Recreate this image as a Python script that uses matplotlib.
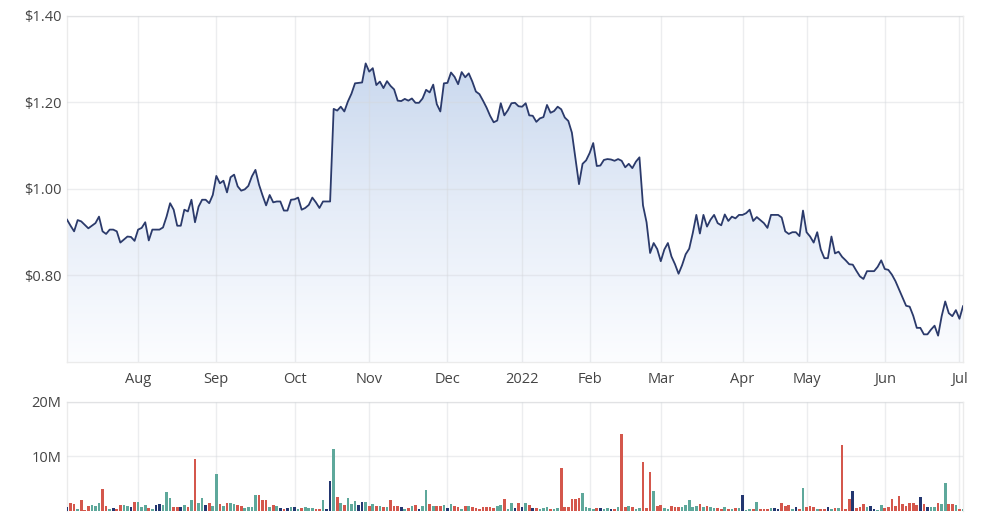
import numpy as np
import pandas as pd
import matplotlib
matplotlib.use("Agg")
import matplotlib.pyplot as plt
from matplotlib.colors import LinearSegmentedColormap

plt.rcParams['font.family'] = ['Open Sans', 'DejaVu Sans']

# ---------------- data ----------------
start_date = "2021-07-05"
end_date = "2022-07-04"
asx_holidays = ["2021-12-27", "2021-12-28", "2022-01-03", "2022-01-26",
                "2022-04-15", "2022-04-18", "2022-04-25", "2022-06-13"]

month_labels = ["Aug", "Sep", "Oct", "Nov", "Dec", "2022",
                "Feb", "Mar", "Apr", "May", "Jun", "Jul"]

price_ticks = [0.80, 1.00, 1.20, 1.40]
volume_ticks_m = [10, 20]

prices = [
    0.929, 0.915, 0.902, 0.928, 0.925, 0.917, 0.909, 0.915, 0.921, 0.936,
    0.902, 0.896, 0.906, 0.906, 0.902, 0.876, 0.883, 0.890, 0.889, 0.880,
    0.906, 0.910, 0.923, 0.881, 0.906, 0.906, 0.906, 0.911, 0.936, 0.967,
    0.952, 0.915, 0.915, 0.952, 0.948, 0.975, 0.923, 0.959, 0.975, 0.975,
    0.967, 0.986, 1.030, 1.013, 1.019, 0.992, 1.027, 1.033, 1.006, 0.996,
    0.999, 1.007, 1.029, 1.044, 1.010, 0.985, 0.962, 0.986, 0.969, 0.971,
    0.971, 0.950, 0.950, 0.975, 0.976, 0.980, 0.952, 0.956, 0.963, 0.980,
    0.969, 0.956, 0.971, 0.971, 0.971,
    1.185, 1.181, 1.190, 1.179, 1.202, 1.220, 1.244, 1.245, 1.246, 1.290,
    1.271, 1.279, 1.240, 1.248, 1.233, 1.249, 1.238, 1.230, 1.204, 1.203,
    1.208, 1.204, 1.209, 1.199, 1.199, 1.209, 1.229, 1.223, 1.241, 1.196,
    1.179, 1.244,
    1.245, 1.269, 1.259, 1.242, 1.270, 1.258, 1.267, 1.248, 1.225, 1.219,
    1.204, 1.188, 1.169, 1.154, 1.158, 1.198, 1.170, 1.182, 1.198, 1.199,
    1.191, 1.190, 1.198, 1.170, 1.169, 1.155, 1.163, 1.166, 1.194, 1.176,
    1.180, 1.190, 1.184, 1.165, 1.157, 1.130, 1.070, 1.011,
    1.058, 1.066, 1.083, 1.106, 1.053, 1.054, 1.067, 1.069, 1.068, 1.065,
    1.069, 1.065, 1.050, 1.058, 1.048, 1.063, 1.073, 0.962, 0.923, 0.852,
    0.875, 0.861, 0.833, 0.860, 0.875, 0.844, 0.826, 0.804, 0.824, 0.849,
    0.862, 0.898, 0.940, 0.897, 0.940, 0.913, 0.929, 0.940, 0.921, 0.916,
    0.941, 0.926, 0.936, 0.932, 0.940, 0.940, 0.944, 0.952, 0.926, 0.935,
    0.928, 0.921, 0.910, 0.940, 0.940, 0.940, 0.934, 0.902, 0.896, 0.900,
    0.900, 0.891, 0.950, 0.900, 0.890, 0.876, 0.900, 0.860, 0.840, 0.840,
    0.890, 0.851, 0.855, 0.843, 0.835, 0.826, 0.825, 0.811, 0.798, 0.792,
    0.810, 0.810, 0.810, 0.820, 0.835, 0.815, 0.813, 0.802, 0.787, 0.768,
    0.749, 0.730, 0.728, 0.707, 0.679, 0.679, 0.664, 0.664, 0.675, 0.684,
    0.661, 0.706, 0.740, 0.713, 0.706, 0.720, 0.700, 0.729,
]

volumes_m = [
    0.74, 1.53, 1.23, 0.43, 2.09, 0.25, 0.86, 1.04, 0.86, 1.53,
    4.10, 0.86, 0.43, 0.55, 0.37, 1.17, 1.10, 0.86, 0.67, 1.72,
    1.72, 0.74, 1.04, 0.55, 0.43, 1.10, 1.23, 1.10, 3.50, 2.33,
    0.67, 0.67, 0.74, 1.10, 0.74, 2.09, 9.50, 1.53, 2.45, 1.04,
    1.53, 0.86, 6.70, 1.23, 0.92, 1.53, 1.53, 1.29, 1.10, 0.86,
    0.61, 0.74, 0.74, 2.90, 2.90, 2.09, 1.96, 0.74, 1.10, 0.86,
    0.55, 0.37, 0.61, 0.67, 0.67, 0.43, 0.49, 0.67, 0.49, 0.49,
    0.37, 0.37, 1.96, 0.43, 5.50, 11.30, 2.50, 1.53, 1.10, 2.33,
    1.29, 1.90, 1.10, 1.72, 1.72, 0.86, 1.29, 0.86, 0.86, 0.74,
    0.67, 1.96, 0.86, 0.86, 0.67, 0.43, 0.49, 0.86, 1.10, 0.43,
    0.86, 3.80, 1.29, 0.86, 0.92, 0.86, 1.10, 0.55, 1.29, 0.86,
    0.67, 0.37, 0.92, 0.92, 0.67, 0.55, 0.37, 0.67, 0.74, 0.67,
    0.55, 0.92, 1.04, 2.15, 0.43, 1.53, 0.55, 1.53, 0.74, 1.53,
    1.10, 0.55, 0.55, 0.37, 0.55, 0.67, 0.37, 0.37, 0.49, 7.90,
    0.74, 0.74, 2.15, 2.15, 2.33, 3.37, 0.74, 0.49, 0.37, 0.55,
    0.55, 0.37, 0.55, 0.37, 0.37, 0.74, 14.10, 0.74, 0.92, 0.74,
    0.43, 0.55, 8.90, 0.55, 7.10, 3.60, 0.92, 1.10, 0.49, 0.37,
    0.92, 0.67, 0.74, 0.74, 1.10, 1.96, 0.74, 0.86, 1.29, 0.74,
    0.92, 0.74, 0.49, 0.49, 0.37, 0.74, 0.37, 0.43, 0.55, 0.55,
    2.90, 0.25, 0.37, 0.37, 1.72, 0.37, 0.37, 0.37, 0.55, 0.49,
    0.37, 1.53, 0.92, 1.10, 0.37, 0.74, 0.37, 4.30, 0.74, 0.92,
    0.74, 0.37, 0.37, 0.37, 0.74, 0.37, 0.55, 0.55, 12.10, 0.37,
    2.15, 3.60, 0.55, 0.74, 1.29, 0.74, 0.92, 0.37, 0.25, 1.10,
    0.55, 0.74, 2.15, 0.86, 2.70, 1.29, 0.92, 1.53, 1.53, 1.10,
    2.50, 1.35, 0.74, 0.74, 0.74, 1.53, 1.35, 5.20, 1.29, 1.23,
    1.04, 0.37, 0.37,
]

# ---------------- derived ----------------
dates = pd.bdate_range(start_date, end_date)
dates = dates[~dates.isin(pd.to_datetime(asx_holidays))]
n = min(len(dates), len(prices), len(volumes_m))
dates = dates[:n]
p = np.array(prices[:n])
v = np.array(volumes_m[:n]) * 1e6
x = np.arange(n)

per = dates.to_period("M")
month_idx = [i for i in range(1, n) if per[i] != per[i - 1]]

diff = np.diff(p, prepend=p[0])
UP, DOWN, FLAT = "#5ea89b", "#d4574c", "#233670"
bar_colors = [FLAT if abs(d) < 0.0015 else (UP if d > 0 else DOWN) for d in diff]

LINE = "#2b3a6b"
GRID = "#ebebeb"
TXT = "#444444"

# ---------------- figure ----------------
fig = plt.figure(figsize=(10, 5.27), dpi=100)
ax = fig.add_axes([0.067, 0.313, 0.896, 0.657])
axv = fig.add_axes([0.067, 0.0304, 0.896, 0.2068])

ymin, ymax = 0.60, 1.40
xmin, xmax = 0, n - 1

# gradient area fill
poly = ax.fill_between(x, p, ymin, facecolor="none", edgecolor="none")
cmap = LinearSegmentedColormap.from_list("g", ["#fcfdff", "#e6edf8", "#c9d8ee"])
grad = np.linspace(0, 1, 256).reshape(-1, 1)
im = ax.imshow(grad, extent=[xmin, xmax, ymin, 1.30], origin="lower",
               aspect="auto", cmap=cmap, zorder=1, interpolation="bilinear")
im.set_clip_path(poly.get_paths()[0], transform=ax.transData)
ax.plot(x, p, color=LINE, lw=1.3, zorder=4, solid_joinstyle="round")

ax.set_xlim(xmin, xmax)
ax.set_ylim(ymin, ymax)
ax.set_yticks(price_ticks)
ax.set_yticklabels([f"${t:.2f}" for t in price_ticks])
ax.set_xticks(month_idx)
ax.set_xticklabels(month_labels[:len(month_idx)])

for a in (ax, axv):
    a.set_axisbelow(False)
    a.grid(True, color="#d5d8dc", alpha=0.45, lw=1.0, zorder=2.5)
    a.tick_params(length=0, labelsize=10.5, colors=TXT)
    for s in a.spines.values():
        s.set_color(GRID)
        s.set_linewidth(1.0)
ax.tick_params(axis="y", pad=4)
ax.tick_params(axis="x", pad=7)

# volume
axv.bar(x, v, width=0.72, color=bar_colors, zorder=3, linewidth=0)
axv.set_xlim(xmin, xmax)
axv.set_ylim(0, 20e6)
axv.set_yticks([t * 1e6 for t in volume_ticks_m])
axv.set_yticklabels([f"{t}M" for t in volume_ticks_m])
axv.set_xticks(month_idx)
axv.set_xticklabels([])
axv.spines["bottom"].set_visible(False)
axv.tick_params(axis="y", pad=4)

fig.savefig("out.png", dpi=100)
